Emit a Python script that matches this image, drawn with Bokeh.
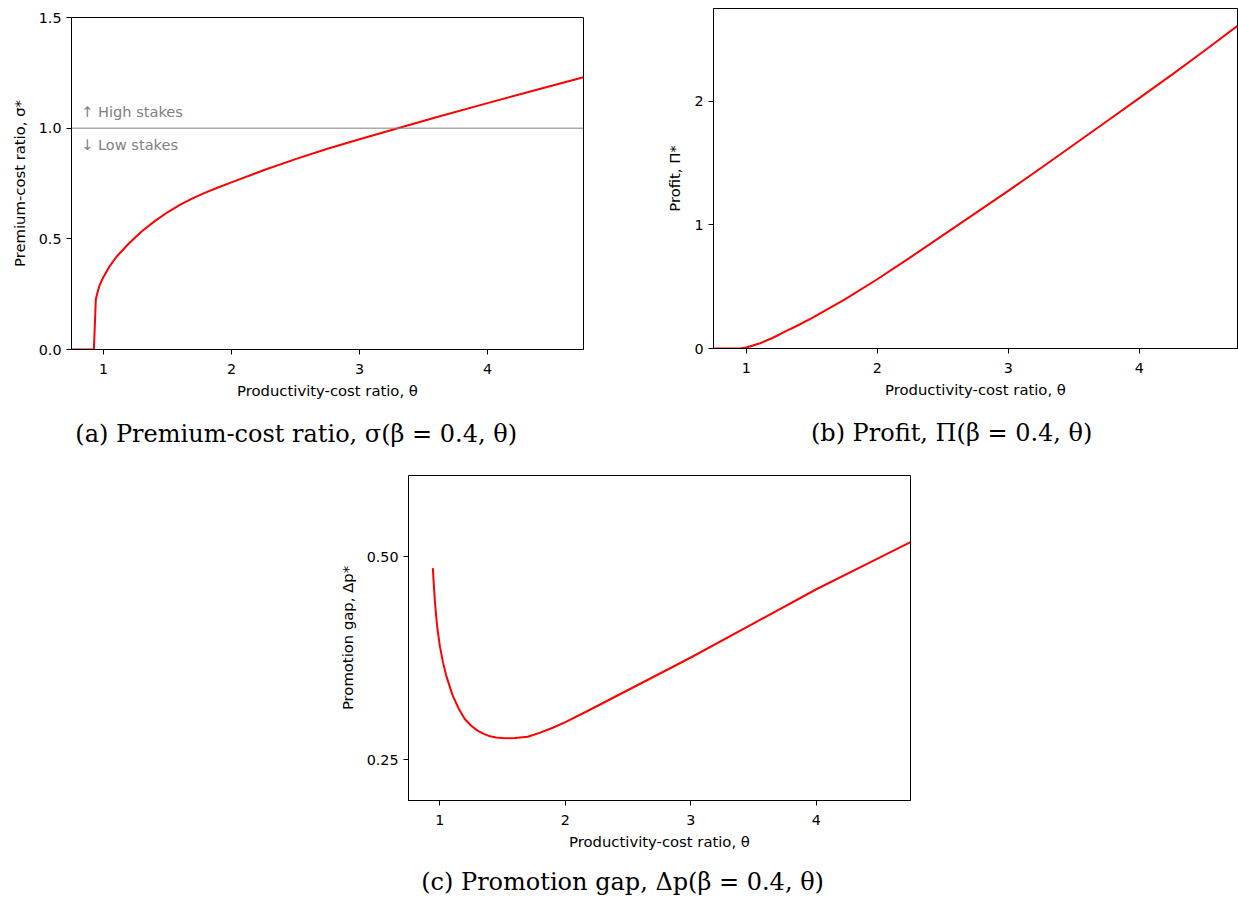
from bokeh.plotting import figure
from bokeh.models import Label, Span, Range1d, FixedTicker, Spacer, Title
from bokeh.layouts import row, column
from bokeh.embed import file_html
from bokeh.resources import INLINE

# ---------------- data ----------------
x_ticks = [1, 2, 3, 4]
x_tick_labels = ["1", "2", "3", "4"]

# (a) premium-cost ratio sigma*
theta_a = [0.75, 0.925, 0.94, 0.955, 0.97, 0.985, 1.0, 1.05, 1.1, 1.2, 1.3, 1.4, 1.5,
           1.6, 1.7, 1.8, 1.9, 2.0, 2.25, 2.5, 2.75, 3.0, 3.3, 3.6, 4.0, 4.4, 4.75]
sigma_a = [0.0, 0.0, 0.227, 0.262, 0.29, 0.31, 0.328, 0.378, 0.418, 0.48, 0.534, 0.58, 0.62,
           0.655, 0.684, 0.71, 0.733, 0.755, 0.81, 0.86, 0.907, 0.95, 1.0, 1.049, 1.113, 1.176, 1.23]
ya_ticks = [0.0, 0.5, 1.0, 1.5]
ya_tick_labels = ["0.0", "0.5", "1.0", "1.5"]
stakes_threshold = 1.0

# (b) profit Pi*
theta_b = [0.75, 0.955, 1.0, 1.1, 1.2, 1.3, 1.4, 1.5, 1.75, 2.0, 2.25, 2.5, 2.75, 3.0,
           3.25, 3.5, 3.75, 4.0, 4.25, 4.5, 4.75]
profit_b = [0.0, 0.0, 0.008, 0.04, 0.085, 0.138, 0.19, 0.245, 0.395, 0.56, 0.735, 0.915, 1.095,
            1.275, 1.46, 1.648, 1.836, 2.025, 2.215, 2.41, 2.61]
yb_ticks = [0, 1, 2]
yb_tick_labels = ["0", "1", "2"]

# (c) promotion gap Delta p*
theta_c = [0.944, 0.95, 0.96, 0.97, 0.98, 1.0, 1.025, 1.05, 1.1, 1.15, 1.2, 1.25, 1.3, 1.35,
           1.4, 1.45, 1.5, 1.55, 1.6, 1.7, 1.8, 1.9, 2.0, 2.2, 2.4, 2.6, 2.8, 3.0, 3.5,
           4.0, 4.4, 4.75]
gap_c = [0.486, 0.47, 0.446, 0.428, 0.412, 0.39, 0.37, 0.354, 0.33, 0.313, 0.30, 0.292, 0.286,
         0.282, 0.279, 0.2775, 0.2768, 0.2766, 0.2768, 0.2785, 0.2835, 0.2895, 0.2965, 0.312,
         0.328, 0.344, 0.36, 0.376, 0.418, 0.46, 0.491, 0.518]
yc_ticks = [0.25, 0.5]
yc_tick_labels = ["0.25", "0.50"]

captions = ["(a) Premium-cost ratio, σ(β = 0.4, θ)",
            "(b) Profit, Π(β = 0.4, θ)",
            "(c) Promotion gap, Δp(β = 0.4, θ)"]

TICK_FS = "14.3px"
LABEL_FS = "14.8px"
CAPTION_FS = "24px"


def make_fig(fw, fh, bl, br, bt, bb, y_range, yticks, ylabels, ylabel):
    p = figure(frame_width=fw, frame_height=fh, x_range=Range1d(0.75, 4.75), y_range=y_range,
               output_backend="svg", toolbar_location=None, title=None,
               min_border_left=bl, min_border_right=br, min_border_top=bt, min_border_bottom=bb)
    p.xgrid.visible = False
    p.ygrid.visible = False
    p.outline_line_color = "black"
    p.outline_line_width = 1
    p.outline_line_alpha = 1
    p.background_fill_color = "white"
    p.border_fill_color = "white"
    p.xaxis.ticker = FixedTicker(ticks=x_ticks)
    p.xaxis.major_label_overrides = dict(zip(x_ticks, x_tick_labels))
    p.yaxis.ticker = FixedTicker(ticks=yticks)
    p.yaxis.major_label_overrides = dict(zip(yticks, ylabels))
    p.xaxis.axis_label = "Productivity-cost ratio, θ"
    p.yaxis.axis_label = ylabel
    for ax in (p.xaxis[0], p.yaxis[0]):
        ax.axis_line_color = "black"
        ax.axis_line_width = 1
        ax.major_tick_line_color = "black"
        ax.major_tick_out = 5
        ax.major_tick_in = 0
        ax.minor_tick_line_color = None
        ax.major_label_text_font = "DejaVu Sans"
        ax.major_label_text_font_size = TICK_FS
        ax.major_label_text_color = "black"
        ax.axis_label_text_font = "DejaVu Sans"
        ax.axis_label_text_font_size = LABEL_FS
        ax.axis_label_text_font_style = "normal"
        ax.axis_label_text_color = "black"
    p.xaxis.major_label_standoff = 9
    p.xaxis.axis_label_standoff = 5
    p.yaxis.major_label_standoff = 5
    p.yaxis.axis_label_standoff = 8
    return p


def caption(p, text, offset, standoff):
    p.add_layout(Title(text=text, align="left", offset=offset, standoff=standoff,
                       text_font="DejaVu Serif", text_font_size=CAPTION_FS,
                       text_font_style="normal", text_color="black"), "below")


# ---------------- panel (a) ----------------
pa = make_fig(512, 332, 71, 57, 8, 120, Range1d(0, 1.5), ya_ticks, ya_tick_labels,
              "Premium-cost ratio, σ*")
pa.add_layout(Span(location=stakes_threshold, dimension="width", line_color="gray", line_width=1))
pa.line(theta_a, sigma_a, line_color="red", line_width=2, line_join="round")
pa.add_layout(Label(x=0.825, y=1.075, text="↑ High stakes", text_color="gray",
                    text_font="DejaVu Sans", text_font_size="14.6px", text_baseline="alphabetic"))
pa.add_layout(Label(x=0.825, y=0.925, text="↓ Low stakes", text_color="gray",
                    text_font="DejaVu Sans", text_font_size="14.6px", text_baseline="alphabetic"))
caption(pa, captions[0], 3.8, 33)

# ---------------- panel (b) ----------------
pb = make_fig(524, 340, 73, 1, 8, 120, Range1d(0, 2.75), yb_ticks, yb_tick_labels,
              "Profit, Π*")
pb.line(theta_b, profit_b, line_color="red", line_width=2, line_join="round")
caption(pb, captions[1], 97.4, 33)

# ---------------- panel (c) ----------------
pc = make_fig(502, 325, 78, 58, 6, 100, Range1d(0.2, 0.6), yc_ticks, yc_tick_labels,
              "Promotion gap, Δp*")
pc.line(theta_c, gap_c, line_color="red", line_width=2, line_join="round")
caption(pc, captions[2], 12.7, 26)

left_col = column(Spacer(width=640, height=9), pa)
layout = column(row(left_col, pb), row(Spacer(width=330, height=10), pc))

open("out.html", "w").write(file_html(layout, INLINE))
